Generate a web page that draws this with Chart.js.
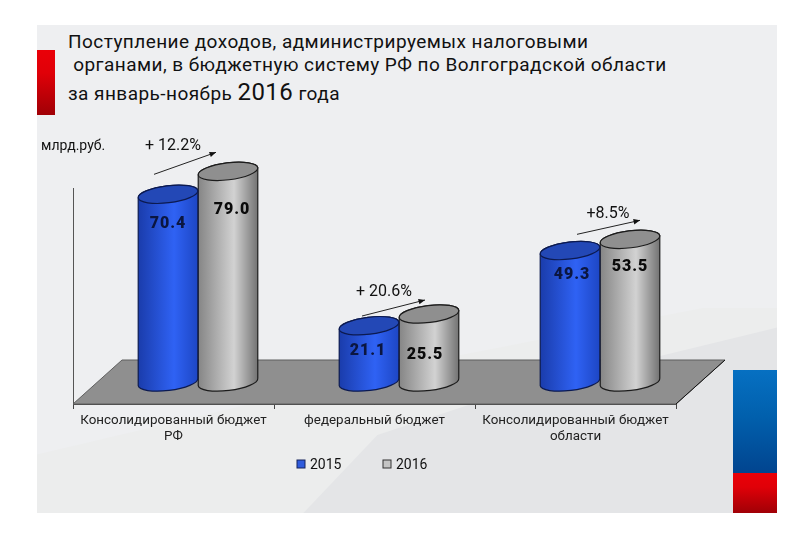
<!DOCTYPE html>
<html lang="ru">
<head>
<meta charset="utf-8">
<title>Поступление доходов</title>
<script src="https://cdn.jsdelivr.net/npm/chart.js@4"></script>
<style>
  html, body { margin: 0; background: #fff; }
  #page { position: relative; width: 800px; height: 533px; overflow: hidden; font-family: Roboto, sans-serif; color: #111; }
  #panel { position: absolute; left: 37px; top: 25px; width: 740px; height: 488px; background: #eeeff1; overflow: hidden; }
  .swoosh { position: absolute; inset: 0; }
  #s1 { background: #eceded; clip-path: polygon(100% 58%, 100% 100%, 0 100%, 0 88%, 56% 68%, 90% 58%); }
  #s2 { background: #e4e5e7; clip-path: polygon(100% 62%, 100% 100%, 36% 100%, 46% 84%, 62% 76%); }
  .bar-red { position: absolute; background: linear-gradient(#ea0008, #e00008 35%, #a00006); }
  #left-red { left: 37px; top: 50px; width: 18px; height: 65px; }
  #right-blue { position: absolute; left: 733px; top: 370px; width: 44px; height: 103px; background: linear-gradient(#0670c2, #0160ad 45%, #01448f); }
  #right-red { left: 733px; top: 473px; width: 44px; height: 40px; }
  .title { position: absolute; left: 68px; font-size: 19px; letter-spacing: 0.45px; white-space: pre; line-height: 24px; }
  .title b { font-weight: 400; font-size: 24px; }
  canvas { position: absolute; left: 0; top: 0; }
</style>
</head>
<body>
<div id="page">
  <div id="panel"><div class="swoosh" id="s1"></div><div class="swoosh" id="s2"></div></div>
  <div class="bar-red" id="left-red"></div>
  <div id="right-blue"></div>
  <div class="bar-red" id="right-red"></div>
  <div class="title" style="top:30px">Поступление доходов, администрируемых налоговыми</div>
  <div class="title" style="top:53px"> органами, в бюджетную систему РФ по Волгоградской области</div>
  <div class="title" style="top:80px">за январь-ноябрь <b>2016</b> года</div>
  <canvas id="myChart" width="800" height="533"></canvas>
</div>
<script>
const categories = [['Консолидированный бюджет', 'РФ'], 'федеральный бюджет', ['Консолидированный бюджет', 'области']]
const values2015 = [70.4, 21.1, 49.3]
const values2016 = [79.0, 25.5, 53.5]
const growthLabels = ['+ 12.2%', '+ 20.6%', '+8.5%']
const unitLabel = 'млрд.руб.'

// oblique depth of the floor, the cylinders stand half way in
const DEPTH_X = 49
const DEPTH_Y = 44
const font = (size, weight = 400) => `${weight} ${size}px Roboto, sans-serif`

const SKINS = [
  { stops: ['#1a3cab', '#2f62f4', '#1d46c4'], top: '#2348b6', label: '#0b1640', edge: '#0c1a50' },
  { stops: ['#858585', '#d2d2d2', '#727272'], top: '#8f8f8f', label: '#0a0a0a', edge: '#1c1c1c' },
]
// nudges from the cylinder top, per group
const labelShift = [
  [[0, 30], [4, 39]],
  [[-1, 25], [-4, 41]],
  [[2, 24], [0, 28]],
]
const arrowShift = [
  { from: [-74, 3], to: [-12, -19], text: [-55, -26] },
  { from: [-67, 2], to: [-4, -14], text: [-45, -23] },
  { from: [-53, -5], to: [10, -19], text: [-22, -26] },
]

const drawCylinder = (ctx, bar, skin) => {
  const rx = bar.width / 2
  const ry = 8.5
  const tilt = -7 * Math.PI / 180
  const cx = bar.x + DEPTH_X / 2
  const top = bar.y - DEPTH_Y / 2
  const bottom = bar.base - DEPTH_Y / 2

  const fill = ctx.createLinearGradient(cx - rx, 0, cx + rx, 0)
  fill.addColorStop(0, skin.stops[0])
  fill.addColorStop(0.6, skin.stops[1])
  fill.addColorStop(1, skin.stops[2])

  ctx.beginPath()
  ctx.ellipse(cx, bottom, rx, ry, tilt, 0, Math.PI)
  ctx.ellipse(cx, top, rx, ry, tilt, Math.PI, 2 * Math.PI)
  ctx.closePath()
  ctx.fillStyle = fill
  ctx.fill()
  ctx.strokeStyle = skin.edge
  ctx.lineWidth = 1.2
  ctx.stroke()

  ctx.beginPath()
  ctx.ellipse(cx, top, rx, ry, tilt, 0, 2 * Math.PI)
  ctx.fillStyle = skin.top
  ctx.fill()
  ctx.stroke()
}

const cylinderPlugin = {
  id: 'cylinders',
  beforeDatasetsDraw(chart) {
    const { ctx, chartArea: { left, right, bottom } } = chart
    ctx.save()
    ctx.beginPath()
    ctx.moveTo(left, bottom)
    ctx.lineTo(left + DEPTH_X, bottom - DEPTH_Y)
    ctx.lineTo(right + DEPTH_X, bottom - DEPTH_Y)
    ctx.lineTo(right, bottom)
    ctx.closePath()
    ctx.fillStyle = '#8f8f8f'
    ctx.fill()
    ctx.strokeStyle = '#5e5e5e'
    ctx.lineWidth = 1
    ctx.stroke()
    ctx.beginPath()
    ctx.moveTo(right, bottom)
    ctx.lineTo(right + DEPTH_X, bottom - DEPTH_Y)
    ctx.strokeStyle = '#111'
    ctx.stroke()
    ctx.restore()
  },
  beforeDatasetDraw(chart, { index, meta }) {
    const { ctx } = chart
    ctx.save()
    meta.data.forEach((bar) => drawCylinder(ctx, bar, SKINS[index]))
    ctx.restore()
    return false
  },
  afterDatasetsDraw(chart) {
    const { ctx, chartArea } = chart
    ctx.save()
    ctx.textAlign = 'center'
    ctx.textBaseline = 'middle'
    chart.data.datasets.forEach((dataset, d) => {
      chart.getDatasetMeta(d).data.forEach((bar, i) => {
        const [dx, dy] = labelShift[i][d]
        ctx.font = font(16, 900)
        ctx.letterSpacing = '1px'
        ctx.fillStyle = SKINS[d].label
        ctx.fillText(dataset.data[i].toFixed(1), bar.x + DEPTH_X / 2 + dx, bar.y - DEPTH_Y / 2 + dy)
      })
    })
    ctx.letterSpacing = '0px'
    // growth arrows hang off the 2016 cylinders
    chart.getDatasetMeta(1).data.forEach((bar, i) => {
      const ox = bar.x + DEPTH_X / 2
      const oy = bar.y - DEPTH_Y / 2
      const { from, to, text } = arrowShift[i]
      const [x0, y0] = [ox + from[0], oy + from[1]]
      const [x1, y1] = [ox + to[0], oy + to[1]]
      const angle = Math.atan2(y1 - y0, x1 - x0)
      ctx.strokeStyle = '#222'
      ctx.lineWidth = 1
      ctx.beginPath()
      ctx.moveTo(x0, y0)
      ctx.lineTo(x1, y1)
      ctx.stroke()
      ctx.fillStyle = '#111'
      ctx.beginPath()
      ctx.moveTo(x1, y1)
      ctx.lineTo(x1 - 7 * Math.cos(angle - 0.4), y1 - 7 * Math.sin(angle - 0.4))
      ctx.lineTo(x1 - 7 * Math.cos(angle + 0.4), y1 - 7 * Math.sin(angle + 0.4))
      ctx.closePath()
      ctx.fill()
      ctx.font = font(16)
      ctx.fillText(growthLabels[i], ox + text[0], oy + text[1] + 1)
    })
    ctx.font = font(14)
    ctx.fillStyle = '#111'
    ctx.textAlign = 'left'
    ctx.fillText(unitLabel, 41, 146)

    // legend sits under the axis labels, wide gap between the two items
    const legendY = chartArea.bottom + 60
    chart.data.datasets.forEach((dataset, d) => {
      const boxX = chartArea.left + 224 + d * 86
      ctx.fillStyle = dataset.backgroundColor
      ctx.strokeStyle = dataset.borderColor
      ctx.lineWidth = 1
      ctx.fillRect(boxX, legendY - 4, 8, 8)
      ctx.strokeRect(boxX, legendY - 4, 8, 8)
      ctx.fillStyle = '#111'
      ctx.font = font(14)
      ctx.fillText(dataset.label, boxX + 13, legendY + 1)
    })
    ctx.restore()
  },
}

const chart = new Chart(document.getElementById('myChart').getContext('2d'), {
  type: 'bar',
  plugins: [cylinderPlugin],
  data: {
    labels: categories,
    datasets: [
      { label: '2015', data: values2015, backgroundColor: '#2f5bdc', borderColor: '#16245c', borderWidth: 1 },
      { label: '2016', data: values2016, backgroundColor: '#c4c4c4', borderColor: '#333', borderWidth: 1 },
    ],
  },
  options: {
    responsive: false,
    animation: false,
    devicePixelRatio: 1,
    layout: { padding: { left: 49, right: 124, top: 188, bottom: 79 } },
    datasets: { bar: { barThickness: 60, grouped: true } },
    plugins: {
      tooltip: { enabled: false },
      legend: { display: false },
    },
    scales: {
      x: {
        grid: { drawOnChartArea: false, tickLength: 5, tickColor: '#444', offset: true },
        border: { color: '#444' },
        ticks: { color: '#222', autoSkip: false, maxRotation: 0, padding: 4, font: { family: 'Roboto', size: 13.4, lineHeight: 1.2 } },
        afterFit(scale) { scale.height = 50 },
      },
      y: {
        min: 0,
        max: 81,
        grid: { display: false },
        border: { color: '#555' },
        ticks: { display: false },
        afterFit(scale) { scale.width = 24 },
      },
    },
  },
})
</script>
</body>
</html>
